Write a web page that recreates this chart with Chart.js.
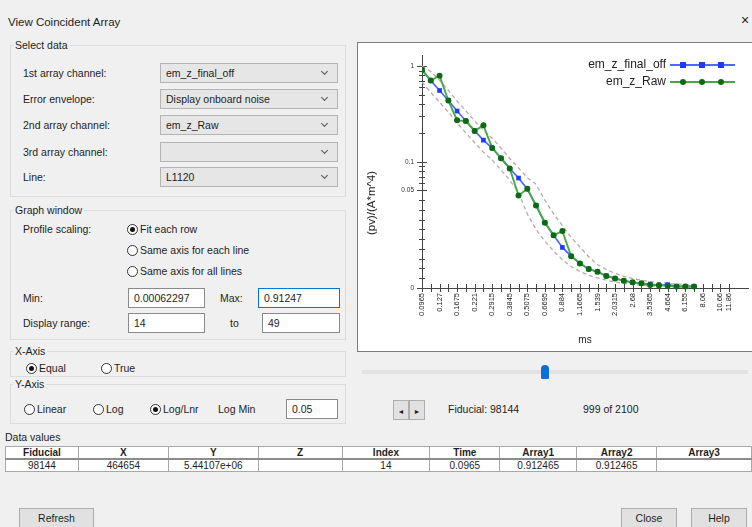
<!DOCTYPE html>
<html>
<head>
<meta charset="utf-8">
<script src="https://cdn.jsdelivr.net/npm/chart.js@4.4.1/dist/chart.umd.min.js"></script>
<style>
html, body { margin: 0; padding: 0; }
body {
    width: 752px; height: 527px; overflow: hidden; position: relative;
    background: #f0f0f0; color: #1e1e1e;
    font-family: "Liberation Sans", Arial, sans-serif; font-size: 10.5px;
}
.a { position: absolute; white-space: nowrap; }
.t { height: 14px; line-height: 14px; }
.group { position: absolute; border: 1px solid #dcdcdc; box-sizing: border-box; }
.combo {
    position: absolute; box-sizing: border-box; height: 20px; line-height: 18px; padding-left: 5px;
    background: #e6e6e6; border: 1px solid #b4b4b4;
}
.combo:after {
    content: ''; position: absolute; right: 10px; top: 5px; width: 4px; height: 4px;
    border-right: 1px solid #555; border-bottom: 1px solid #555; transform: rotate(45deg);
}
.field {
    position: absolute; box-sizing: border-box; height: 20px; line-height: 18px; padding-left: 5px;
    background: #fff; border: 1px solid #8a8a8a;
}
.field.focus { border-color: #0078d7; }
.radio {
    position: absolute; width: 11px; height: 11px; box-sizing: border-box;
    border: 1px solid #333; border-radius: 50%; background: #fff;
}
.radio.on:after {
    content: ''; position: absolute; left: 2px; top: 2px; width: 5px; height: 5px;
    border-radius: 50%; background: #111;
}
.btn {
    position: absolute; box-sizing: border-box; text-align: center;
    background: #e1e1e1; border: 1px solid #adadad;
}
#panel { position: absolute; left: 357px; top: 42px; width: 410px; height: 310px; box-sizing: border-box;
    border: 1px solid #7d7d7d; background: #fff; }
#chart { position: absolute; left: 359px; top: 44px; }
table { position: absolute; left: 5px; top: 446px; border-collapse: collapse; table-layout: fixed; background: #fff; }
td { border: 1px solid #a8a8a8; height: 11px; padding: 0; text-align: center; font-size: 10px; line-height: 11px; }
tr.head td { font-weight: bold; border-bottom: 2px solid #8c8c8c; }
</style>
</head>
<body>
<div id="ui"></div>
<div id="panel"></div>
<canvas id="chart" width="393" height="307"></canvas>

<script>
// ---- chart data ----
const channels = [14, 15, 16, 17, 18, 19, 20, 21, 22, 23, 24, 25, 26, 27, 28, 29, 30, 31,
    32, 33, 34, 35, 36, 37, 38, 39, 40, 41, 42, 43, 44, 45, 46, 47, 48, 49];

// time labels shown under every other channel (ms)
const tickLabels = ['0.0965', '', '0.127', '', '0.1675', '', '0.221', '', '0.2915', '',
    '0.3845', '', '0.5075', '', '0.6695', '', '0.884', '', '1.1665', '', '1.539', '',
    '2.0315', '', '2.68', '', '3.5365', '', '4.664', '', '6.155', '', '8.06', '', '10.66', '11.86'];

const finalOffValues = [0.912, 0.706, 0.556, 0.437, 0.339, 0.267, 0.210, 0.168, 0.139, 0.109,
    0.085, 0.0675, 0.052, 0.0423, 0.0335, 0.0270, 0.0208, 0.0163, 0.0126, 0.0097,
    0.0083, 0.0062, 0.0049, 0.0037, 0.0029, 0.0024, 0.0020, 0.0014, 0.0017, 0.0008, 0.0008, 0.0008];

const rawValues = [0.912, 0.706, 0.795, 0.437, 0.271, 0.267, 0.210, 0.240, 0.139, 0.109,
    0.085, 0.0474, 0.052, 0.0423, 0.0335, 0.0270, 0.0292, 0.0163, 0.0126, 0.0097,
    0.0083, 0.0062, 0.0049, 0.0037, 0.0029, 0.0024, 0.0015, 0.0014, 0.0011, 0.0008, 0.0008, 0.0008];

// onboard noise envelope
const envelopeUpper = [1.0, 0.88, 0.71, 0.56, 0.43, 0.34, 0.267, 0.213, 0.176, 0.139,
    0.108, 0.086, 0.068, 0.058, 0.045, 0.038, 0.032, 0.026, 0.021, 0.016,
    0.012, 0.0095, 0.0075, 0.006, 0.0048, 0.004, 0.0033, 0.0028, 0.0024, 0.002, 0.0018, 0.0016];
const envelopeLower = [0.68, 0.53, 0.42, 0.33, 0.255, 0.20, 0.158, 0.126, 0.104, 0.082,
    0.064, 0.049, 0.038, 0.030, 0.024, 0.019, 0.0145, 0.011, 0.0085, 0.0065,
    0.0052, 0.004, 0.0031, 0.0024, 0.0018, 0.0014, 0.0011, 0.0009, 0.0008, 0.0006, 0.0005, 0.0005];

// y ticks (log above Log Min, linear below)
const yTickValues = [0, 0.005, 0.01, 0.015, 0.02, 0.025, 0.03, 0.035, 0.04, 0.045, 0.05,
    0.06, 0.07, 0.08, 0.09, 0.1, 0.2, 0.3, 0.4, 0.5, 0.6, 0.7, 0.8, 0.9, 1];
const yLabelValues = [0, 0.05, 0.1, 1];
const yLabelText = ['0', '0.05', '0.1', '1'];

const LOG_MIN = 0.05;
const LOG_RATIO = 0.98;   // height of a decade relative to the 0..LogMin band
const Y_TOP = 2.38;       // axis top in band units
const X_MAX = 37.15;

const FONT = '"Liberation Sans", Arial, sans-serif';
const BLUE_LINE = '#4f67ff', BLUE_DOT = '#1d3bff';
const GREEN_LINE = '#47a847', GREEN_DOT = '#0e6a12';
const ENV_COLOR = 'rgba(176,160,160,0.9)';

// ---- dialog controls ----
function ui(html) { document.getElementById('ui').insertAdjacentHTML('beforeend', html); }
function text(x, y, s, extra) { ui(`<div class="a t" style="left:${x}px;top:${y - 7}px;${extra || ''}">${s}</div>`); }
function combo(y, s) { ui(`<div class="combo" style="left:160px;top:${y - 10}px;width:178px">${s}</div>`); }
function field(x, y, w, s, cls) { ui(`<div class="field ${cls || ''}" style="left:${x}px;top:${y - 10}px;width:${w}px">${s}</div>`); }
function radio(x, y, on, s) {
    ui(`<div class="radio${on ? ' on' : ''}" style="left:${x - 5}px;top:${y - 5}px"></div>`);
    text(x + 8, y, s);
}
function group(x, y, w, h, title) {
    ui(`<div class="group" style="left:${x}px;top:${y}px;width:${w}px;height:${h}px"></div>`);
    text(x + 3, y, title, 'background:#f0f0f0;padding:0 2px');
}
function button(x, y, w, s) { ui(`<div class="btn" style="left:${x}px;top:${y}px;width:${w}px;height:20px;line-height:18px">${s}</div>`); }

text(8, 22, 'View Coincident Array', 'font-size:11.5px');
text(741, 20, '×', 'font-size:14px');

group(10, 45, 336, 152, 'Select data');
text(23, 73, '1st array channel:'); combo(73, 'em_z_final_off');
text(23, 99, 'Error envelope:'); combo(99, 'Display onboard noise');
text(23, 125, '2nd array channel:'); combo(125, 'em_z_Raw');
text(23, 152, '3rd array channel:'); combo(152, '');
text(23, 177, 'Line:'); combo(177, 'L1120');

group(10, 210, 336, 130, 'Graph window');
text(23, 229, 'Profile scaling:');
radio(132, 229, true, 'Fit each row');
radio(132, 250, false, 'Same axis for each line');
radio(132, 271, false, 'Same axis for all lines');
text(23, 298, 'Min:'); field(128, 298, 77, '0.00062297');
text(220, 298, 'Max:'); field(258, 298, 82, '0.91247', 'focus');
text(23, 323, 'Display range:'); field(128, 323, 77, '14');
text(230, 323, 'to'); field(262, 323, 78, '49');

group(10, 351, 336, 26, 'X-Axis');
radio(31, 368, true, 'Equal');
radio(106, 368, false, 'True');

group(10, 384, 336, 40, 'Y-Axis');
radio(29, 409, false, 'Linear');
radio(98, 409, false, 'Log');
radio(155, 409, true, 'Log/Lnr');
text(218, 409, 'Log Min'); field(286, 409, 52, '0.05');

// slider + navigation under the chart
ui('<div class="a" style="left:362px;top:370px;width:386px;height:4px;background:#e2e2e2"></div>');
ui('<div class="a" style="left:541px;top:365px;width:8px;height:14px;background:#0a6fd8;border-radius:4px 4px 1px 1px"></div>');
button(393, 400, 16, '<span style="font-size:7px">◄</span>');
button(409, 400, 16, '<span style="font-size:7px">►</span>');
text(448, 409, 'Fiducial: 98144');
text(583, 409, '999 of 2100');

text(5, 437, 'Data values');
ui(`<table>
<colgroup><col style="width:73px"><col style="width:90px"><col style="width:90px"><col style="width:84px">
<col style="width:88px"><col style="width:70px"><col style="width:77px"><col style="width:80px"><col style="width:95px"></colgroup>
<tr class="head"><td>Fiducial</td><td>X</td><td>Y</td><td>Z</td><td>Index</td><td>Time</td><td>Array1</td><td>Array2</td><td>Array3</td></tr>
<tr><td>98144</td><td>464654</td><td>5.44107e+06</td><td></td><td>14</td><td>0.0965</td><td>0.912465</td><td>0.912465</td><td></td></tr>
</table>`);

button(19, 508, 75, 'Refresh');
button(621, 508, 56, 'Close');
button(691, 508, 56, 'Help');

// ---- Log/Lnr axis: linear from 0 to Log Min, logarithmic above ----
function toBand(v) {
    return v <= LOG_MIN ? v / LOG_MIN : 1 + Math.log10(v / LOG_MIN) * LOG_RATIO;
}
function fromBand(t) {
    return t <= 1 ? t * LOG_MIN : LOG_MIN * Math.pow(10, (t - 1) / LOG_RATIO);
}

class LogLinScale extends Chart.LinearScale {
    determineDataLimits() {
        this.min = 0;
        this.max = Y_TOP;
    }
    buildTicks() {
        return yTickValues.map(v => ({ value: v }));
    }
    getPixelForValue(value) {
        if (value === null || value === undefined || isNaN(value)) return NaN;
        return super.getPixelForValue(toBand(value));
    }
    getValueForPixel(pixel) {
        return fromBand(super.getValueForPixel(pixel));
    }
}
LogLinScale.id = 'loglin';
Chart.register(LogLinScale);

function points(values) {
    return values.map((v, i) => ({ x: i, y: v }));
}

// tick marks that cross the axes
const crossTicks = {
    id: 'crossTicks',
    beforeDatasetsDraw(chart) {
        const { ctx, scales: { x, y } } = chart;
        ctx.save();
        ctx.strokeStyle = '#444';
        ctx.lineWidth = 1;
        ctx.beginPath();
        y.ticks.forEach(t => {
            const py = Math.round(y.getPixelForValue(t.value)) + 0.5;
            const len = yLabelValues.includes(t.value) ? 5 : 3;
            ctx.moveTo(x.left - len, py);
            ctx.lineTo(x.left + len, py);
        });
        x.ticks.forEach(t => {
            const px = Math.round(x.getPixelForValue(t.value)) + 0.5;
            ctx.moveTo(px, y.bottom - 4);
            ctx.lineTo(px, y.bottom + 4);
        });
        ctx.stroke();
        ctx.restore();
    }
};

// legend in the top right corner: name, then line sample with three markers
const cornerLegend = {
    id: 'cornerLegend',
    afterDraw(chart) {
        const ctx = chart.ctx;
        const rows = [
            { name: chart.data.datasets[1].label, line: BLUE_LINE, dot: BLUE_DOT, rect: true },
            { name: chart.data.datasets[0].label, line: GREEN_LINE, dot: GREEN_DOT, rect: false }
        ];
        ctx.save();
        ctx.font = '12px ' + FONT;
        ctx.textAlign = 'right';
        ctx.textBaseline = 'middle';
        rows.forEach((r, i) => {
            const yy = 21 + i * 17;
            ctx.fillStyle = '#222';
            ctx.fillText(r.name, 307, yy);
            ctx.strokeStyle = r.line;
            ctx.lineWidth = 1.8;
            ctx.beginPath();
            ctx.moveTo(311, yy);
            ctx.lineTo(376, yy);
            ctx.stroke();
            ctx.fillStyle = r.dot;
            [324, 343, 362].forEach(mx => {
                ctx.beginPath();
                if (r.rect) ctx.rect(mx - 3, yy - 3, 6, 6);
                else ctx.arc(mx, yy, 3, 0, Math.PI * 2);
                ctx.fill();
            });
        });
        ctx.restore();
    }
};

// y axis title, centred where the reference has it
const yTitle = {
    id: 'yTitle',
    afterDraw(chart) {
        const ctx = chart.ctx;
        ctx.save();
        ctx.translate(13, 159);
        ctx.rotate(-Math.PI / 2);
        ctx.font = '11.5px ' + FONT;
        ctx.fillStyle = '#222';
        ctx.textAlign = 'center';
        ctx.textBaseline = 'middle';
        ctx.fillText('(pv)/(A*m^4)', 0, 0);
        ctx.restore();
    }
};

new Chart(document.getElementById('chart'), {
    type: 'line',
    data: {
        datasets: [
            {
                label: 'em_z_Raw',
                data: points(rawValues),
                borderColor: GREEN_LINE,
                borderWidth: 1.9,
                pointRadius: 3,
                pointBackgroundColor: GREEN_DOT,
                pointBorderColor: GREEN_DOT,
                pointBorderWidth: 0,
                order: 0
            },
            {
                label: 'em_z_final_off',
                data: points(finalOffValues),
                borderColor: BLUE_LINE,
                borderWidth: 1.7,
                pointStyle: 'rect',
                pointRadius: 3.3,
                pointBackgroundColor: BLUE_DOT,
                pointBorderColor: BLUE_DOT,
                pointBorderWidth: 0,
                order: 1
            },
            {
                label: 'noise upper',
                data: points(envelopeUpper),
                borderColor: ENV_COLOR,
                borderWidth: 1.3,
                borderDash: [4, 3],
                pointRadius: 0,
                order: 2
            },
            {
                label: 'noise lower',
                data: points(envelopeLower),
                borderColor: ENV_COLOR,
                borderWidth: 1.3,
                borderDash: [4, 3],
                pointRadius: 0,
                order: 2
            }
        ]
    },
    options: {
        responsive: false,
        animation: false,
        events: [],
        layout: { padding: { top: 11, right: 2, left: 0, bottom: 0 } },
        plugins: {
            legend: { display: false },
            tooltip: { enabled: false }
        },
        scales: {
            x: {
                type: 'linear',
                bounds: 'data',
                min: 0,
                max: X_MAX,
                afterBuildTicks: s => { s.ticks = channels.map((c, i) => ({ value: i })); },
                afterFit: s => { s.height = 63; },
                grid: { drawOnChartArea: false, drawTicks: false },
                border: { color: '#444' },
                ticks: {
                    autoSkip: false,
                    minRotation: 90,
                    maxRotation: 90,
                    padding: 5,
                    color: '#222',
                    font: { size: 7.5, family: FONT },
                    callback: v => tickLabels[v] || ''
                },
                title: {
                    display: true,
                    text: 'ms',
                    color: '#222',
                    font: { size: 10, family: FONT },
                    padding: { top: 0, bottom: 5 }
                }
            },
            y: {
                type: 'loglin',
                position: 'left',
                afterFit: s => { s.width = 63; },
                grid: { drawOnChartArea: false, drawTicks: false },
                border: { color: '#444' },
                ticks: {
                    autoSkip: false,
                    padding: 8,
                    color: '#333',
                    font: { size: 6.5, family: FONT },
                    callback: v => {
                        const k = yLabelValues.indexOf(v);
                        return k >= 0 ? yLabelText[k] : '';
                    }
                }
            }
        }
    },
    plugins: [crossTicks, cornerLegend, yTitle]
});
</script>
</body>
</html>
